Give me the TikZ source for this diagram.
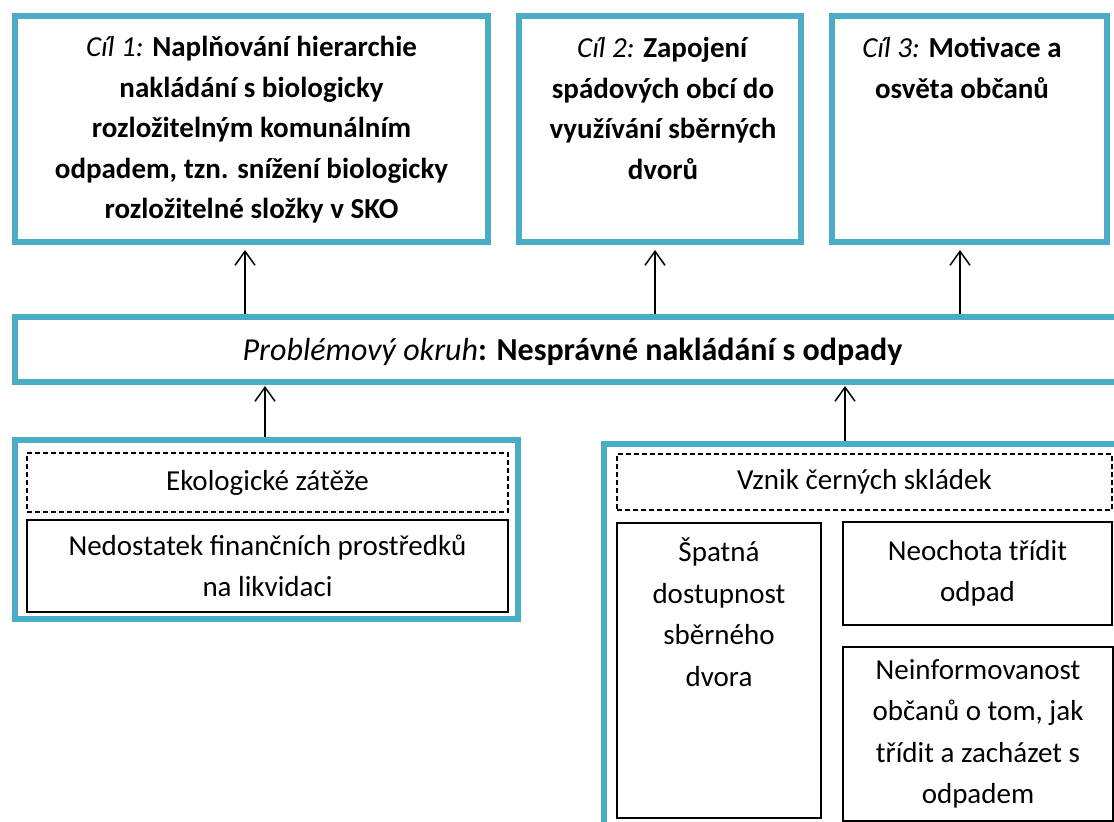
\documentclass[tikz,border=0pt]{standalone}
\usepackage{fontspec}
\setmainfont{Carlito}
\usetikzlibrary{arrows.meta}
\definecolor{teal5}{HTML}{4BACC6}
\tikzset{
  tealbox/.style={draw=teal5, line width=6pt, fill=white, inner sep=0pt},
  thinbox/.style={draw=black, line width=1.4pt, inner sep=0pt},
  dashbox/.style={thinbox, dash pattern=on 5pt off 3pt},
  txt/.style={font=\fontsize{29}{41.5}\selectfont, align=center, inner sep=0pt},
  gtxt/.style={txt, font=\fontsize{29}{40.5}\selectfont},
  arr/.style={line width=1.5pt, -{Straight Barb[length=14pt,width=20pt,line width=1.5pt]}}
}
\begin{document}
\begin{tikzpicture}[x=1pt,y=-1pt]
\useasboundingbox (0,0) rectangle (1114,822);
\clip (0,0) rectangle (1114,822);
\fill[white] (0,0) rectangle (1114,822);
% goals
\node[tealbox, minimum width=473pt, minimum height=226pt] (g1) at (251.5,129) {};
\node[tealbox, minimum width=282pt, minimum height=226pt] (g2) at (660,129) {};
\node[tealbox, minimum width=275pt, minimum height=226pt] (g3) at (969.5,129) {};
\node[gtxt] (g1t) at (251.5,130) {{\itshape Cíl 1:} \textbf{Naplňování hierarchie}\\\textbf{nakládání s biologicky}\\\textbf{rozložitelným komunálním}\\\textbf{odpadem, tzn. snížení biologicky}\\\textbf{rozložitelné složky v SKO}};
\node[gtxt, anchor=north] (g2t) at (663,37) {{\itshape Cíl 2:} \textbf{Zapojení}\\\textbf{spádových obcí do}\\\textbf{využívání sběrných}\\\textbf{dvorů}};
\node[gtxt, anchor=north] (g3t) at (962,37) {{\itshape Cíl 3:} \textbf{Motivace a}\\\textbf{osvěta občanů}};
% problem
\node[tealbox, minimum width=1115pt, minimum height=65pt] (p) at (572.5,349) {};
\node[txt, font=\fontsize{32}{40}\selectfont] (pt) at (572.5,352) {{\itshape Problémový okruh}\textbf{: Nesprávné nakládání s odpady}};
% bottom containers
\node[tealbox, minimum width=503pt, minimum height=179pt] (lb) at (266.5,529.5) {};
\node[tealbox, minimum width=526pt, minimum height=416pt] (rb) at (867,652) {};
% left inner
\node[dashbox, minimum width=481pt, minimum height=59pt, txt] (ek) at (267.5,482.5) {Ekologické zátěže};
\node[thinbox, minimum width=481pt, minimum height=92pt, txt] (nf) at (267.5,566) {Nedostatek finančních prostředků\\na likvidaci};
% right inner
\node[dashbox, minimum width=495pt, minimum height=56pt, txt] (vz) at (864.5,482) {Vznik černých skládek};
\node[thinbox, minimum width=204pt, minimum height=295pt] (sp) at (719,670.5) {};
\node[txt, anchor=north] (spt) at (719,538) {Špatná\\dostupnost\\sběrného\\dvora};
\node[thinbox, minimum width=269pt, minimum height=103pt, txt] (ne) at (977.5,573.5) {Neochota třídit\\odpad};
\node[thinbox, minimum width=270pt, minimum height=174pt, txt] (ni) at (978,734) {Neinformovanost\\občanů o tom, jak\\třídit a zacházet s\\odpadem};
% arrows
\coordinate (a1) at (245,250);
\coordinate (a2) at (655,250);
\coordinate (a3) at (960,250);
\draw[arr] (a1 |- p.north) -- (a1);
\draw[arr] (a2 |- p.north) -- (a2);
\draw[arr] (a3 |- p.north) -- (a3);
\coordinate (b1) at (265,386);
\coordinate (b2) at (845,386);
\draw[arr] (b1 |- lb.north) -- (b1);
\draw[arr] (b2 |- rb.north) -- (b2);
\end{tikzpicture}
\end{document}
